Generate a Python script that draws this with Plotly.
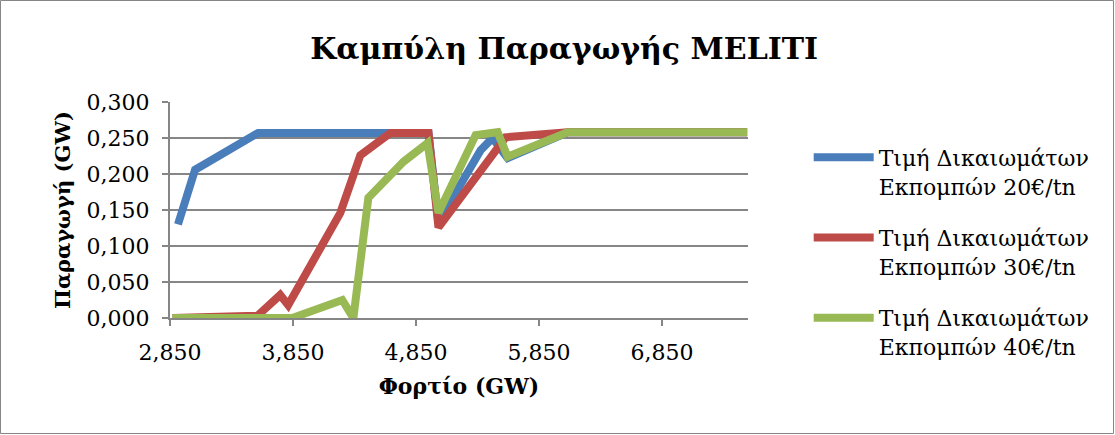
import plotly.graph_objects as go

# Load (GW) and production (GW) for three emission-allowance prices
x_20 = [2.915, 3.054, 3.567, 4.952, 5.033, 5.376, 5.473, 5.595, 6.084, 7.543]
y_20 = [0.130, 0.206, 0.257, 0.257, 0.133, 0.233, 0.250, 0.222, 0.258, 0.258]

x_30 = [2.870, 3.560, 3.746, 3.811, 4.235, 4.398, 4.642, 4.952, 5.033, 5.441, 5.579, 6.084, 7.543]
y_30 = [0.000, 0.003, 0.032, 0.018, 0.146, 0.226, 0.257, 0.257, 0.126, 0.222, 0.251, 0.258, 0.258]

x_40 = [2.870, 3.844, 4.251, 4.341, 4.463, 4.748, 4.944, 5.033, 5.335, 5.514, 5.595, 6.084, 7.543]
y_40 = [0.000, 0.000, 0.025, 0.000, 0.167, 0.217, 0.243, 0.146, 0.254, 0.258, 0.224, 0.258, 0.258]

names = ["Τιμή Δικαιωμάτων<br>Εκπομπών 20€/tn",
         "Τιμή Δικαιωμάτων<br>Εκπομπών 30€/tn",
         "Τιμή Δικαιωμάτων<br>Εκπομπών 40€/tn"]
colors = ["#4A7EBB", "#BE4B48", "#98B954"]

SERIF = "DejaVu Serif"

fig = go.Figure()
for i, (xs, ys, nm, c) in enumerate(zip([x_20, x_30, x_40], [y_20, y_30, y_40], names, colors)):
    fig.add_trace(go.Scatter(x=xs, y=ys, mode="lines", name=nm, legendgroup=f"g{i}",
                             line=dict(color=c, width=8)))

grid = "#868686"
fig.update_layout(
    width=1115, height=435,
    paper_bgcolor="white", plot_bgcolor="white",
    separators=",.",
    margin=dict(l=170, r=367, t=102, b=117),
    title=dict(text="<b>Καμπύλη Παραγωγής MELITI</b>", x=0.506, xanchor="center",
               y=1 - 48 / 435, yanchor="middle",
               font=dict(family=SERIF, size=30, color="black")),
    font=dict(family=SERIF, size=22, color="black"),
    xaxis=dict(range=[2.85, 7.55], tick0=2.85, dtick=1, tickformat=".3f",
               showgrid=False, zeroline=False,
               showline=True, linecolor=grid, linewidth=2,
               ticks="outside", ticklen=6, tickcolor=grid, tickwidth=2,
               ticklabelstandoff=8,
               title=dict(text="<b>Φορτίο (GW)</b>", standoff=14,
                          font=dict(family=SERIF, size=22))),
    yaxis=dict(range=[0, 0.3], dtick=0.05, tickformat=".3f",
               showgrid=True, gridcolor=grid, gridwidth=2,
               zeroline=False,
               showline=True, linecolor=grid, linewidth=2,
               ticks="outside", ticklen=6, tickcolor=grid, tickwidth=2,
               ticklabelstandoff=8,
               title=dict(text="<b>Παραγωγή (GW)</b>", standoff=10,
                          font=dict(family=SERIF, size=21))),
    legend=dict(x=1.105, xanchor="left", y=0.84, yanchor="top",
                font=dict(family=SERIF, size=22), valign="top",
                traceorder="grouped", tracegroupgap=20, maxheight=320,
                itemwidth=60, bgcolor="rgba(0,0,0,0)"),
    shapes=[dict(type="rect", xref="paper", yref="paper",
                 x0=-169.5 / 578, x1=(1113.5 - 170) / 578,
                 y0=(318 - 433.5) / 216, y1=(318 - 0.5) / 216,
                 line=dict(color="#868686", width=1), fillcolor="rgba(0,0,0,0)",
                 layer="below")],
)

fig.write_html("out.html", config={"displayModeBar": False},
               post_script="document.body.style.margin='0';")
